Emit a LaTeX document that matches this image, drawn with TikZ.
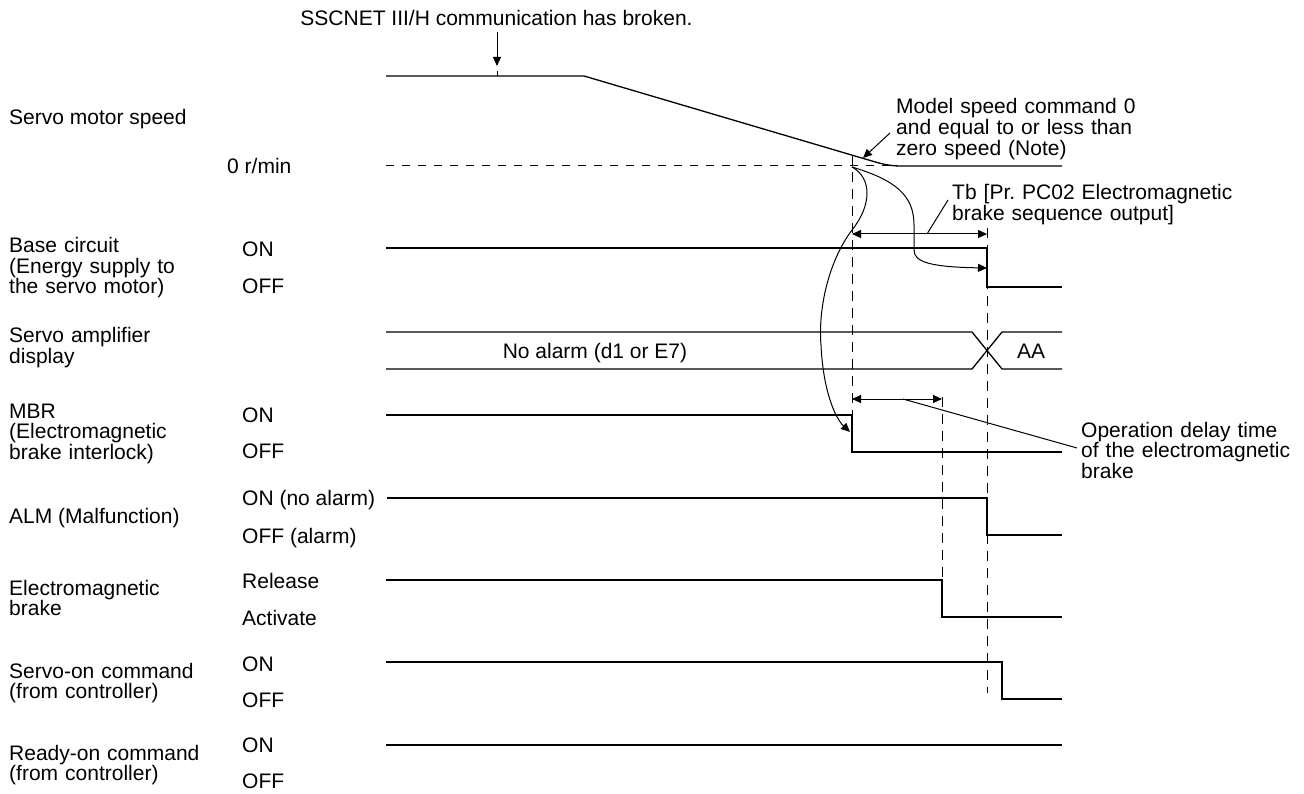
\documentclass[tikz,border=0pt]{standalone}
\usepackage{fontspec}
\setmainfont{Liberation Sans}
\usetikzlibrary{arrows.meta}
\frenchspacing
\begin{document}
\begin{tikzpicture}[x=1pt,y=-1pt,
  sig/.style={line width=1.3pt, line join=miter},
  dsh/.style={line width=1pt, dash pattern=on 8pt off 8pt},
  vdsh/.style={line width=1pt, dash pattern=on 10pt off 7pt},
  txt/.style={anchor=base west, inner sep=0pt, font=\fontsize{21}{20.5}\selectfont\frenchspacing},
  mtxt/.style={txt, text width=300pt, align=left},
  thin/.style={line width=1pt},
  tipar/.style={thin, -{Triangle[length=9pt,width=8pt]}},
  dblar/.style={thin, {Triangle[length=9pt,width=8pt]}-{Triangle[length=9pt,width=8pt]}}]
\useasboundingbox (0,0) rectangle (1304,794);

% ---- left labels ----
\node[txt]  (lspd) at (9,125) {Servo motor speed};
\node[mtxt] (lbase) at (9,253) {Base circuit\\(Energy supply to\\the servo motor)};
\node[mtxt] (ldisp) at (9,343) {Servo amplifier\\display};
\node[mtxt] (lmbr) at (9,418) {MBR\\(Electromagnetic\\brake interlock)};
\node[txt]  (lalm) at (9,523) {ALM (Malfunction)};
\node[mtxt] (lbrk) at (9,595) {Electromagnetic\\brake};
\node[mtxt] (lson) at (9,678) {Servo-on command\\(from controller)};
\node[mtxt] (lron) at (9,760) {Ready-on command\\(from controller)};

% ---- state labels ----
\node[txt] (s0)   at (227,174) {0 r/min};
\node[txt] (bon)  at (242,257) {ON};
\node[txt] (boff) at (242,294) {OFF};
\node[txt] (mon)  at (242,422) {ON};
\node[txt] (moff) at (242,458) {OFF};
\node[txt] (aon)  at (242,505) {ON (no alarm)};
\node[txt] (aoff) at (242,543) {OFF (alarm)};
\node[txt] (rel)  at (242,588) {Release};
\node[txt] (act)  at (242,625) {Activate};
\node[txt] (son)  at (242,671) {ON};
\node[txt] (soff) at (242,707) {OFF};
\node[txt] (ron)  at (242,752) {ON};
\node[txt] (roff) at (242,788) {OFF};

% ---- top event ----
\node[txt, anchor=base] (ttop) at (496.5,26) {SSCNET III/H communication has broken.};
\coordinate (brk) at (497,76);
\draw[tipar] (497,32) -- (497,66);
\draw[thin] (497,71) -- (brk);

% ---- servo motor speed ----
\draw[dsh] (386,166) -- (897,166);
\draw[sig] (386,76) -- (584,76) -- (860,157.5) .. controls (876,162) and (886,166) .. (900,166) -- (1062,166);

% ---- vertical dashed lines ----
\draw[vdsh] (852,155) -- (852,415);
\draw[vdsh] (987,228) -- (987,693);
\draw[vdsh] (942,397) -- (942,580);

% ---- base circuit ----
\draw[sig] (386,248) -- (987,248) -- (987,287) -- (1062,287);

% ---- display ----
\draw[sig] (386,332) -- (972,332) -- (1002,369) -- (1062,369);
\draw[sig] (386,369) -- (972,369) -- (1002,332) -- (1062,332);
\node[txt, anchor=base] (noal) at (595,358) {No alarm (d1 or E7)};
\node[txt, anchor=base] (aa) at (1031,359) {AA};

% ---- MBR ----
\draw[sig] (386,415) -- (852,415) -- (852,452) -- (1062,452);
% ---- ALM ----
\draw[sig] (387,498) -- (987,498) -- (987,535) -- (1062,535);
% ---- brake ----
\draw[sig] (386,580) -- (942,580) -- (942,617) -- (1062,617);
% ---- servo-on ----
\draw[sig] (386,662) -- (1002,662) -- (1002,699) -- (1062,699);
% ---- ready-on ----
\draw[sig] (386,745) -- (1062,745);

% ---- annotations ----
\node[mtxt, font=\fontsize{21}{19.5}\selectfont] (model) at (896,114) {Model speed command 0\\and equal to or less than\\zero speed (Note)};
\draw[tipar] (890,133) -- (863,158);

\node[mtxt] (tb) at (952,200) {Tb [Pr. PC02 Electromagnetic\\brake sequence output]};
\draw[dblar] (852,234) -- (987,234);
\draw[thin] (927,234) -- (948,200);

\node[mtxt] (opd) at (1081,437) {Operation delay time\\of the electromagnetic\\brake};
\draw[dblar] (852,399) -- (942,399);
\draw[thin] (903,399) -- (1077,448);

% ---- causal curves ----
\draw[tipar] (852,167) .. controls (895,180) and (914,195) .. (914,225) -- (914,250) .. controls (914,262) and (930,267) .. (987,268);
\draw[tipar] (852,167) .. controls (872,178) and (872,205) .. (852,230) .. controls (828,262) and (818,310) .. (821,345) .. controls (823,390) and (835,418) .. (850,432);
\end{tikzpicture}
\end{document}
